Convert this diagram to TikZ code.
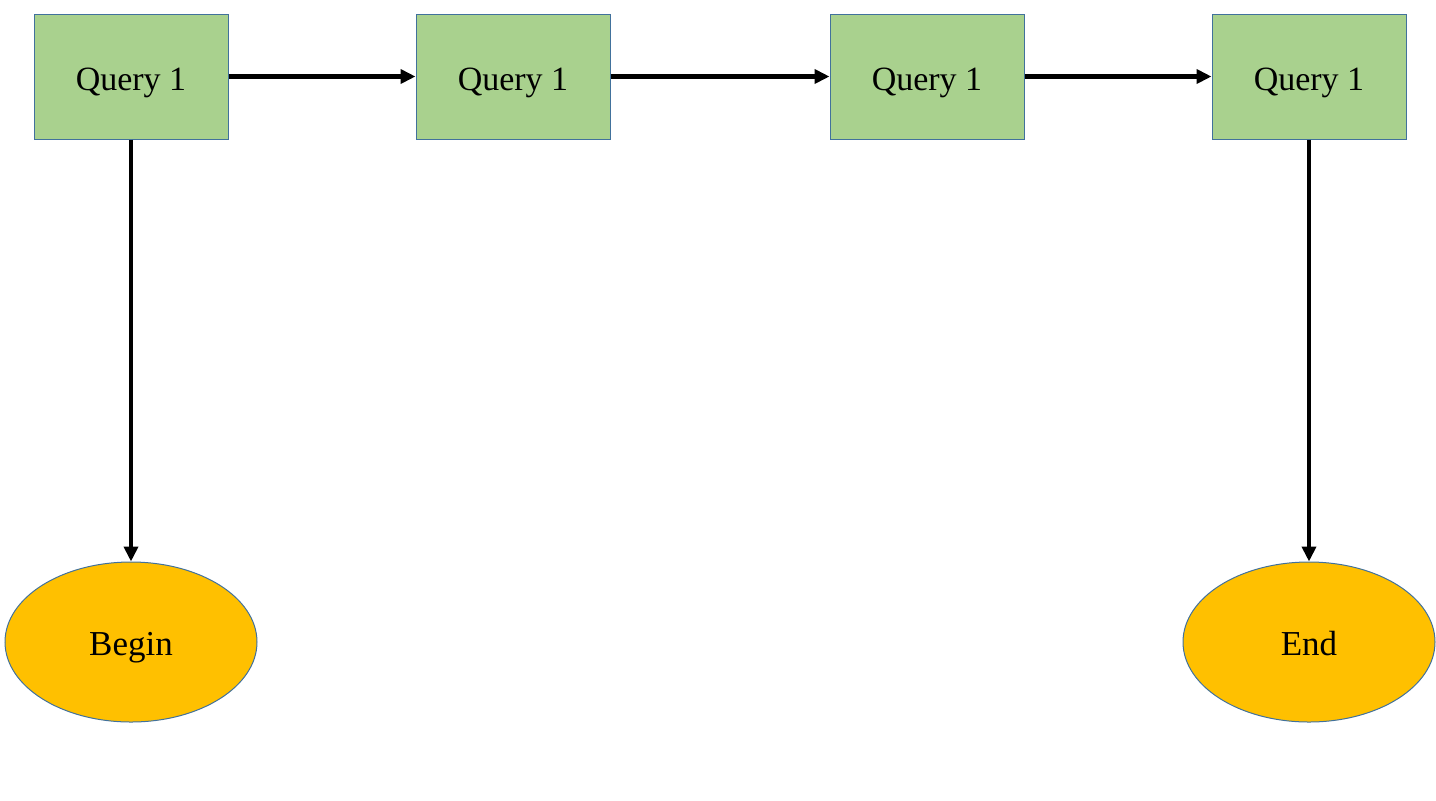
\documentclass[tikz,border=0pt]{standalone}
\usepackage{fontspec}
\setmainfont{Liberation Serif}
\definecolor{qgreen}{HTML}{A9D18E}
\definecolor{qedge}{HTML}{41719C}
\definecolor{tgold}{HTML}{FFC000}
\usetikzlibrary{arrows.meta,positioning,shapes.geometric}
\tikzset{
  query/.style={draw=qedge, fill=qgreen, line width=0.5pt, inner sep=0pt,
              minimum width=97pt, minimum height=62.5pt, text height=17pt, text depth=3.5pt,
              font=\fontsize{17}{20}\selectfont},
  term/.style={ellipse, draw=qedge, fill=tgold, line width=0.5pt, inner sep=0pt,
              minimum width=126pt, minimum height=80pt, text height=17pt, text depth=4pt,
              font=\fontsize{17.5}{20}\selectfont},
  flow/.style={-{Triangle[length=7.5pt, width=7pt]}, black, line width=2.25pt},
}
\begin{document}
\begin{tikzpicture}
    \useasboundingbox (0,0) rectangle (718pt,-400pt);
    \node[query] (q1) at (65.5pt,-38.25pt) {Query 1};
    \node[query, right=93.5pt of q1] (q2) {Query 1};
    \node[query, right=109.5pt of q2] (q3) {Query 1};
    \node[query, right=93.5pt of q3] (q4) {Query 1};
    \node[term, below=211pt of q1] (begin) {Begin};
    \node[term, below=211pt of q4] (end) {End};
    \draw[flow] (q1)--(q2); \draw[flow] (q2)--(q3); \draw[flow] (q3)--(q4);
    \draw[flow] (q1)--(begin); \draw[flow] (q4)--(end);
  \end{tikzpicture}
\end{document}
